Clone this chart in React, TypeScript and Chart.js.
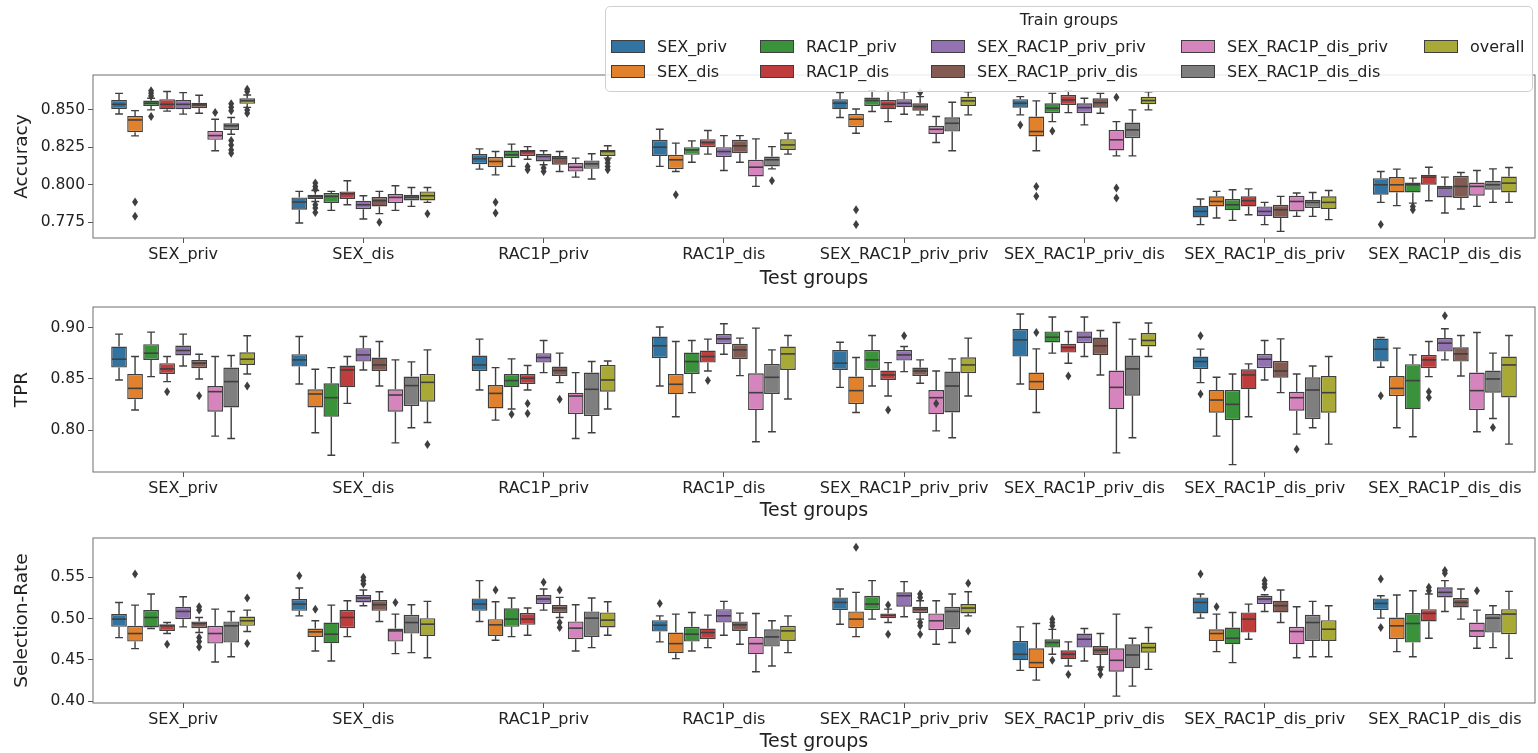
import React, { useEffect, useRef } from 'react';
import { Chart, registerables } from 'chart.js';

Chart.register(...registerables);

const FONT = "'DejaVu Sans', 'Liberation Sans', sans-serif";
const EDGE = '#3f3f3f';

const testGroups = ['SEX_priv', 'SEX_dis', 'RAC1P_priv', 'RAC1P_dis', 'SEX_RAC1P_priv_priv', 'SEX_RAC1P_priv_dis', 'SEX_RAC1P_dis_priv', 'SEX_RAC1P_dis_dis'];
const trainGroups = ['SEX_priv', 'SEX_dis', 'RAC1P_priv', 'RAC1P_dis', 'SEX_RAC1P_priv_priv', 'SEX_RAC1P_priv_dis', 'SEX_RAC1P_dis_priv', 'SEX_RAC1P_dis_dis', 'overall'];
const trainColors = ['#3274a1', '#e1812c', '#3a923a', '#c03d3e', '#9372b2', '#845b53', '#d684bd', '#7f7f7f', '#a9aa35'];

// [whiskerLow, q1, median, q3, whiskerHigh] per test group (rows) x train group (cols)
const accuracyStats = [
  [[0.8471, 0.8504, 0.8535, 0.8564, 0.8608], [0.8325, 0.8350, 0.8431, 0.8458, 0.8493], [0.8498, 0.8524, 0.8542, 0.8560, 0.8575], [0.8490, 0.8502, 0.8535, 0.8569, 0.8620], [0.8470, 0.8502, 0.8535, 0.8564, 0.8613], [0.8476, 0.8509, 0.8531, 0.8546, 0.8595], [0.8226, 0.8299, 0.8327, 0.8358, 0.8436], [0.8336, 0.8365, 0.8392, 0.8409, 0.8447], [0.8515, 0.8538, 0.8558, 0.8575, 0.8597]],
  [[0.7746, 0.7834, 0.7885, 0.7916, 0.7956], [0.7889, 0.7905, 0.7920, 0.7934, 0.7962], [0.7830, 0.7878, 0.7923, 0.7945, 0.7956], [0.7867, 0.7905, 0.7940, 0.7956, 0.8027], [0.7772, 0.7838, 0.7867, 0.7894, 0.7927], [0.7808, 0.7856, 0.7894, 0.7918, 0.7956], [0.7830, 0.7878, 0.7916, 0.7938, 0.7993], [0.7856, 0.7896, 0.7918, 0.7934, 0.7982], [0.7883, 0.7896, 0.7927, 0.7956, 0.7982]],
  [[0.8104, 0.8137, 0.8173, 0.8204, 0.8239], [0.8066, 0.8117, 0.8155, 0.8184, 0.8221], [0.8122, 0.8177, 0.8199, 0.8228, 0.8270], [0.8170, 0.8192, 0.8221, 0.8232, 0.8254], [0.8133, 0.8155, 0.8188, 0.8206, 0.8226], [0.8088, 0.8133, 0.8177, 0.8192, 0.8221], [0.8051, 0.8088, 0.8117, 0.8144, 0.8177], [0.8038, 0.8106, 0.8139, 0.8162, 0.8206], [0.8177, 0.8192, 0.8221, 0.8232, 0.8259]],
  [[0.8122, 0.8192, 0.8250, 0.8299, 0.8369], [0.8088, 0.8104, 0.8166, 0.8199, 0.8277], [0.8150, 0.8199, 0.8232, 0.8250, 0.8292], [0.8204, 0.8250, 0.8281, 0.8303, 0.8361], [0.8095, 0.8184, 0.8221, 0.8250, 0.8327], [0.8150, 0.8210, 0.8259, 0.8299, 0.8327], [0.7989, 0.8055, 0.8117, 0.8166, 0.8305], [0.8106, 0.8122, 0.8166, 0.8188, 0.8254], [0.8204, 0.8232, 0.8265, 0.8303, 0.8343]],
  [[0.8447, 0.8502, 0.8542, 0.8569, 0.8613], [0.8343, 0.8383, 0.8436, 0.8471, 0.8504], [0.8487, 0.8524, 0.8560, 0.8580, 0.8626], [0.8420, 0.8502, 0.8535, 0.8564, 0.8624], [0.8469, 0.8515, 0.8542, 0.8569, 0.8619], [0.8465, 0.8493, 0.8520, 0.8542, 0.8586], [0.8281, 0.8338, 0.8369, 0.8392, 0.8454], [0.8226, 0.8354, 0.8409, 0.8449, 0.8549], [0.8465, 0.8524, 0.8558, 0.8586, 0.8619]],
  [[0.8465, 0.8513, 0.8542, 0.8569, 0.8586], [0.8226, 0.8321, 0.8354, 0.8454, 0.8558], [0.8420, 0.8476, 0.8509, 0.8542, 0.8608], [0.8480, 0.8531, 0.8564, 0.8597, 0.8626], [0.8398, 0.8476, 0.8513, 0.8542, 0.8575], [0.8476, 0.8513, 0.8546, 0.8575, 0.8608], [0.8192, 0.8228, 0.8299, 0.8365, 0.8420], [0.8192, 0.8310, 0.8365, 0.8414, 0.8498], [0.8498, 0.8535, 0.8560, 0.8586, 0.8619]],
  [[0.7735, 0.7783, 0.7823, 0.7861, 0.7905], [0.7779, 0.7856, 0.7889, 0.7923, 0.7956], [0.7763, 0.7830, 0.7867, 0.7905, 0.7967], [0.7801, 0.7856, 0.7894, 0.7923, 0.7973], [0.7735, 0.7790, 0.7823, 0.7856, 0.7883], [0.7690, 0.7779, 0.7834, 0.7867, 0.7923], [0.7790, 0.7823, 0.7889, 0.7927, 0.7945], [0.7790, 0.7845, 0.7883, 0.7900, 0.7949], [0.7768, 0.7839, 0.7883, 0.7923, 0.7962]],
  [[0.7883, 0.7934, 0.8000, 0.8044, 0.8088], [0.7861, 0.7949, 0.8000, 0.8051, 0.8104], [0.7878, 0.7949, 0.8000, 0.8015, 0.8044], [0.7894, 0.8000, 0.8051, 0.8066, 0.8117], [0.7812, 0.7916, 0.7978, 0.7993, 0.8051], [0.7839, 0.7912, 0.7989, 0.8060, 0.8082], [0.7856, 0.7927, 0.7989, 0.8015, 0.8095], [0.7883, 0.7967, 0.8000, 0.8027, 0.8106], [0.7883, 0.7949, 0.8011, 0.8055, 0.8115]],
];
const accuracyOutliers = [
  [[], [0.7885, 0.7790], [0.8626, 0.8608, 0.8591, 0.8454], [], [], [], [0.8480], [0.8538, 0.8515, 0.8493, 0.8294, 0.8265, 0.8232, 0.8210], [0.8635, 0.8620, 0.8498, 0.8476]],
  [[], [0.8011, 0.7989, 0.7971, 0.7867, 0.7845, 0.7816], [], [], [], [0.7750], [], [], [0.7808]],
  [[], [0.7883, 0.7812], [], [0.8122, 0.8100], [0.8111, 0.8088], [], [], [], [0.8166, 0.8144, 0.8122, 0.8100]],
  [[], [0.7934], [], [], [], [], [], [0.8027], []],
  [[], [0.7834, 0.7735], [], [], [], [0.8613], [], [], []],
  [[0.8398], [0.7989, 0.7923], [0.8358], [], [], [], [0.8582, 0.7978, 0.7912], [], []],
  [[], [], [], [], [], [], [], [], []],
  [[0.7735], [], [0.7856, 0.7834], [], [], [], [], [], []],
];

const tprStats = [
  [[0.8490, 0.8611, 0.8693, 0.8817, 0.8938], [0.8196, 0.8301, 0.8408, 0.8549, 0.8719], [0.8523, 0.8686, 0.8752, 0.8840, 0.8958], [0.8474, 0.8549, 0.8598, 0.8654, 0.8719], [0.8627, 0.8729, 0.8778, 0.8827, 0.8938], [0.8500, 0.8605, 0.8654, 0.8686, 0.8742], [0.7941, 0.8180, 0.8376, 0.8431, 0.8719], [0.7918, 0.8222, 0.8474, 0.8611, 0.8729], [0.8549, 0.8637, 0.8693, 0.8761, 0.8922]],
  [[0.8451, 0.8621, 0.8686, 0.8742, 0.8915], [0.7974, 0.8222, 0.8353, 0.8399, 0.8595], [0.7755, 0.8131, 0.8317, 0.8458, 0.8611], [0.8261, 0.8418, 0.8588, 0.8631, 0.8719], [0.8588, 0.8670, 0.8735, 0.8801, 0.8915], [0.8431, 0.8578, 0.8637, 0.8709, 0.8866], [0.7876, 0.8180, 0.8343, 0.8399, 0.8686], [0.8023, 0.8235, 0.8435, 0.8523, 0.8667], [0.8075, 0.8278, 0.8467, 0.8549, 0.8784]],
  [[0.8392, 0.8578, 0.8637, 0.8729, 0.8889], [0.8098, 0.8212, 0.8359, 0.8441, 0.8611], [0.8206, 0.8418, 0.8484, 0.8549, 0.8696], [0.8392, 0.8451, 0.8507, 0.8549, 0.8631], [0.8562, 0.8660, 0.8709, 0.8752, 0.8876], [0.8464, 0.8529, 0.8582, 0.8621, 0.8752], [0.7918, 0.8157, 0.8333, 0.8366, 0.8562], [0.7974, 0.8137, 0.8399, 0.8562, 0.8670], [0.8206, 0.8376, 0.8490, 0.8637, 0.8676]],
  [[0.8431, 0.8703, 0.8824, 0.8915, 0.9007], [0.8131, 0.8350, 0.8448, 0.8549, 0.8866], [0.8366, 0.8549, 0.8670, 0.8758, 0.8876], [0.8578, 0.8660, 0.8719, 0.8778, 0.8889], [0.8742, 0.8840, 0.8892, 0.8938, 0.9039], [0.8533, 0.8693, 0.8784, 0.8843, 0.8899], [0.7886, 0.8196, 0.8366, 0.8556, 0.8997], [0.7984, 0.8353, 0.8516, 0.8647, 0.8784], [0.8304, 0.8588, 0.8745, 0.8817, 0.8925]],
  [[0.8418, 0.8588, 0.8654, 0.8784, 0.8859], [0.8173, 0.8255, 0.8386, 0.8523, 0.8709], [0.8431, 0.8588, 0.8686, 0.8784, 0.8925], [0.8333, 0.8490, 0.8539, 0.8582, 0.8660], [0.8572, 0.8680, 0.8735, 0.8784, 0.8817], [0.8458, 0.8529, 0.8578, 0.8611, 0.8686], [0.7993, 0.8154, 0.8317, 0.8392, 0.8578], [0.7925, 0.8173, 0.8431, 0.8572, 0.8696], [0.8333, 0.8556, 0.8637, 0.8712, 0.8899]],
  [[0.8451, 0.8719, 0.8882, 0.8987, 0.9134], [0.8173, 0.8392, 0.8474, 0.8562, 0.8794], [0.8752, 0.8856, 0.8908, 0.8964, 0.9105], [0.8654, 0.8758, 0.8807, 0.8843, 0.8964], [0.8719, 0.8850, 0.8908, 0.8964, 0.9105], [0.8539, 0.8735, 0.8824, 0.8905, 0.8974], [0.7778, 0.8203, 0.8418, 0.8582, 0.9052], [0.7925, 0.8337, 0.8598, 0.8729, 0.8889], [0.8719, 0.8817, 0.8876, 0.8948, 0.9046]],
  [[0.8464, 0.8598, 0.8670, 0.8719, 0.8791], [0.7941, 0.8170, 0.8294, 0.8392, 0.8516], [0.7663, 0.8098, 0.8252, 0.8392, 0.8549], [0.8131, 0.8399, 0.8539, 0.8595, 0.8647], [0.8490, 0.8605, 0.8693, 0.8745, 0.8876], [0.8366, 0.8513, 0.8578, 0.8676, 0.8892], [0.7961, 0.8190, 0.8317, 0.8376, 0.8549], [0.8023, 0.8108, 0.8392, 0.8516, 0.8627], [0.7863, 0.8170, 0.8366, 0.8529, 0.8719]],
  [[0.8614, 0.8670, 0.8791, 0.8895, 0.8905], [0.8023, 0.8333, 0.8408, 0.8529, 0.8801], [0.7935, 0.8203, 0.8484, 0.8644, 0.8735], [0.8523, 0.8605, 0.8686, 0.8735, 0.8866], [0.8686, 0.8768, 0.8850, 0.8899, 0.8990], [0.8529, 0.8670, 0.8745, 0.8810, 0.8925], [0.7984, 0.8196, 0.8386, 0.8562, 0.8954], [0.8114, 0.8366, 0.8500, 0.8582, 0.8752], [0.7863, 0.8320, 0.8637, 0.8719, 0.8925]],
];
const tprOutliers = [
  [[], [], [], [0.8376], [], [0.8337], [], [], [0.8431]],
  [[], [], [], [], [], [], [], [], [0.7859]],
  [[], [], [0.8154], [0.8261, 0.8163], [], [0.8301], [], [], []],
  [[], [], [], [0.8484], [], [], [], [], []],
  [[], [], [], [0.8196], [0.8922], [], [0.8261], [], []],
  [[], [0.8954], [], [0.8529], [], [], [], [], []],
  [[0.8922, 0.8353], [], [], [], [], [], [0.7814], [], []],
  [[0.8337], [], [], [0.8376, 0.8320], [0.9118], [], [], [0.8026], []],
];

const selectionStats = [
  [[0.4771, 0.4901, 0.4994, 0.5055, 0.5196], [0.4638, 0.4723, 0.4820, 0.4913, 0.5164], [0.4881, 0.4893, 0.5014, 0.5103, 0.5298], [0.4820, 0.4852, 0.4913, 0.4933, 0.4953], [0.4901, 0.4994, 0.5087, 0.5144, 0.5265], [0.4832, 0.4885, 0.4941, 0.4966, 0.5014], [0.4476, 0.4698, 0.4820, 0.4913, 0.5115], [0.4540, 0.4711, 0.4913, 0.4966, 0.5087], [0.4844, 0.4913, 0.4974, 0.5026, 0.5103]],
  [[0.5034, 0.5095, 0.5176, 0.5237, 0.5370], [0.4609, 0.4779, 0.4840, 0.4881, 0.4974], [0.4488, 0.4702, 0.4812, 0.4953, 0.5164], [0.4783, 0.4885, 0.5014, 0.5103, 0.5217], [0.5156, 0.5196, 0.5249, 0.5285, 0.5346], [0.4966, 0.5095, 0.5168, 0.5225, 0.5326], [0.4577, 0.4723, 0.4852, 0.4881, 0.5055], [0.4589, 0.4820, 0.4953, 0.5047, 0.5168], [0.4528, 0.4791, 0.4933, 0.5006, 0.5209]],
  [[0.4966, 0.5095, 0.5176, 0.5245, 0.5460], [0.4739, 0.4791, 0.4925, 0.4994, 0.5204], [0.4783, 0.4901, 0.4994, 0.5125, 0.5249], [0.4800, 0.4925, 0.4994, 0.5067, 0.5128], [0.5103, 0.5176, 0.5237, 0.5285, 0.5358], [0.5014, 0.5067, 0.5128, 0.5164, 0.5257], [0.4609, 0.4751, 0.4885, 0.4966, 0.5168], [0.4650, 0.4779, 0.5006, 0.5087, 0.5249], [0.4800, 0.4893, 0.4982, 0.5075, 0.5204]],
  [[0.4719, 0.4844, 0.4921, 0.4982, 0.5034], [0.4516, 0.4581, 0.4698, 0.4832, 0.5055], [0.4609, 0.4723, 0.4812, 0.4901, 0.5075], [0.4650, 0.4751, 0.4832, 0.4881, 0.5043], [0.4800, 0.4953, 0.5034, 0.5115, 0.5209], [0.4690, 0.4852, 0.4925, 0.4966, 0.5067], [0.4358, 0.4569, 0.4698, 0.4779, 0.5063], [0.4427, 0.4662, 0.4779, 0.4872, 0.4974], [0.4589, 0.4731, 0.4852, 0.4913, 0.5034]],
  [[0.4933, 0.5103, 0.5196, 0.5257, 0.5358], [0.4783, 0.4885, 0.4994, 0.5087, 0.5318], [0.4994, 0.5103, 0.5176, 0.5277, 0.5460], [0.4953, 0.5006, 0.5039, 0.5063, 0.5115], [0.5022, 0.5144, 0.5277, 0.5318, 0.5447], [0.4994, 0.5067, 0.5115, 0.5144, 0.5217], [0.4690, 0.4860, 0.4974, 0.5063, 0.5217], [0.4711, 0.4872, 0.5087, 0.5144, 0.5298], [0.5034, 0.5063, 0.5128, 0.5176, 0.5326]],
  [[0.4375, 0.4496, 0.4569, 0.4731, 0.4901], [0.4257, 0.4399, 0.4468, 0.4642, 0.4941], [0.4569, 0.4650, 0.4711, 0.4751, 0.4870], [0.4427, 0.4508, 0.4569, 0.4617, 0.4719], [0.4488, 0.4650, 0.4751, 0.4820, 0.4881], [0.4415, 0.4561, 0.4617, 0.4670, 0.4820], [0.4063, 0.4358, 0.4496, 0.4642, 0.5055], [0.4184, 0.4399, 0.4561, 0.4690, 0.4763], [0.4387, 0.4589, 0.4650, 0.4711, 0.4893]],
  [[0.5006, 0.5063, 0.5196, 0.5257, 0.5298], [0.4601, 0.4731, 0.4820, 0.4872, 0.5055], [0.4468, 0.4690, 0.4763, 0.4893, 0.5075], [0.4751, 0.4832, 0.4994, 0.5075, 0.5176], [0.5087, 0.5176, 0.5237, 0.5277, 0.5289], [0.4953, 0.5075, 0.5156, 0.5217, 0.5346], [0.4528, 0.4690, 0.4844, 0.4901, 0.5144], [0.4540, 0.4731, 0.4953, 0.5047, 0.5209], [0.4540, 0.4731, 0.4872, 0.4982, 0.5156]],
  [[0.5006, 0.5103, 0.5184, 0.5245, 0.5277], [0.4601, 0.4751, 0.4913, 0.5014, 0.5285], [0.4540, 0.4711, 0.4941, 0.5067, 0.5338], [0.4763, 0.4966, 0.5063, 0.5115, 0.5298], [0.5087, 0.5257, 0.5318, 0.5379, 0.5460], [0.4994, 0.5136, 0.5196, 0.5249, 0.5358], [0.4642, 0.4779, 0.4852, 0.4953, 0.5103], [0.4650, 0.4832, 0.5006, 0.5055, 0.5156], [0.4520, 0.4812, 0.5055, 0.5115, 0.5330]],
];
const selectionOutliers = [
  [[], [0.5540], [], [0.4690], [], [0.5144, 0.5103, 0.4771, 0.4723, 0.4658], [], [], [0.5249, 0.4698]],
  [[0.5520], [0.5115], [], [], [0.5500, 0.5460, 0.5419], [], [0.5196], [], []],
  [[], [0.5346], [], [], [0.5439], [0.5346, 0.4953, 0.4893], [], [], []],
  [[0.5184], [], [], [], [], [], [], [], []],
  [[], [0.5864], [], [0.5164, 0.4812], [], [0.5298, 0.5257, 0.4953, 0.4913, 0.4812], [], [], [0.5427, 0.4852]],
  [[], [], [0.4994, 0.4953, 0.4913, 0.4496], [0.4326], [], [0.4387, 0.4326], [], [], []],
  [[0.5540], [0.5144], [], [], [0.5460, 0.5419, 0.5379], [], [], [], []],
  [[0.5480, 0.4893], [], [], [0.5379, 0.5338], [0.5581, 0.5549], [], [0.5338], [], []],
];

const accuracyTicks = [0.775, 0.8, 0.825, 0.85];
const tprTicks = [0.8, 0.85, 0.9];
const selectionTicks = [0.4, 0.45, 0.5, 0.55];

const panels = [
  { title: 'Accuracy', stats: accuracyStats, outliers: accuracyOutliers, ticks: accuracyTicks, decimals: 3, min: 0.7646, max: 0.873, top: 0, height: 290, padTop: 75, xHeight: 52 },
  { title: 'TPR', stats: tprStats, outliers: tprOutliers, ticks: tprTicks, decimals: 2, min: 0.7591, max: 0.9203, top: 290, height: 232, padTop: 17, xHeight: 50 },
  { title: 'Selection-Rate', stats: selectionStats, outliers: selectionOutliers, ticks: selectionTicks, decimals: 2, min: 0.398, max: 0.5975, top: 522, height: 231, padTop: 16, xHeight: 50 },
];

function makeBoxPlugin(stats: number[][][], outliers: number[][][]) {
  return {
    id: 'boxDetails',
    afterDatasetsDraw(chart: any) {
      const ctx = chart.ctx;
      const ys = chart.scales.y;
      const ca = chart.chartArea;
      const py = (v: number) => ys.getPixelForValue(v);
      ctx.save();
      ctx.beginPath();
      ctx.rect(ca.left, ca.top, ca.right - ca.left, ca.bottom - ca.top);
      ctx.clip();
      chart.data.datasets.forEach((_ds: any, t: number) => {
        const meta = chart.getDatasetMeta(t);
        meta.data.forEach((bar: any, g: number) => {
          const s = stats[g][t];
          const { x, width } = bar.getProps(['x', 'width'], true);
          const w = width;
          ctx.strokeStyle = EDGE;
          ctx.lineWidth = 1.4;
          ctx.beginPath();
          ctx.moveTo(x, py(s[3]));
          ctx.lineTo(x, py(s[4]));
          ctx.moveTo(x, py(s[1]));
          ctx.lineTo(x, py(s[0]));
          ctx.moveTo(x - w / 4, py(s[4]));
          ctx.lineTo(x + w / 4, py(s[4]));
          ctx.moveTo(x - w / 4, py(s[0]));
          ctx.lineTo(x + w / 4, py(s[0]));
          ctx.stroke();
          ctx.beginPath();
          ctx.lineWidth = 1.6;
          ctx.moveTo(x - w / 2 + 0.7, py(s[2]));
          ctx.lineTo(x + w / 2 - 0.7, py(s[2]));
          ctx.stroke();
          ctx.fillStyle = EDGE;
          (outliers[g][t] || []).forEach((v) => {
            const yy = py(v);
            ctx.beginPath();
            ctx.moveTo(x, yy - 4.5);
            ctx.lineTo(x + 3, yy);
            ctx.lineTo(x, yy + 4.5);
            ctx.lineTo(x - 3, yy);
            ctx.closePath();
            ctx.fill();
          });
        });
      });
      ctx.restore();
      ctx.save();
      ctx.strokeStyle = '#6e6e6e';
      ctx.lineWidth = 1;
      ctx.strokeRect(ca.left, ca.top, ca.right - ca.left, ca.bottom - ca.top);
      ctx.restore();
    },
  };
}

function Panel(props: any) {
  const ref = useRef<HTMLCanvasElement | null>(null);
  const p = props.panel;
  useEffect(() => {
    if (!ref.current) return;
    const chart = new Chart(ref.current, {
      type: 'bar',
      data: {
        labels: testGroups,
        datasets: trainGroups.map((name, t) => ({
          label: name,
          data: testGroups.map((_n, g) => [p.stats[g][t][1], p.stats[g][t][3]]),
          backgroundColor: trainColors[t],
          borderColor: EDGE,
          borderWidth: 1.4,
          borderSkipped: false,
          categoryPercentage: 0.8,
          barPercentage: 0.98,
        })),
      },
      options: {
        responsive: false,
        animation: false,
        devicePixelRatio: 1,
        layout: { padding: { top: p.padTop, right: 3, left: 0, bottom: 0 } },
        plugins: { legend: { display: false }, tooltip: { enabled: false } },
        scales: {
          x: {
            type: 'category',
            offset: true,
            grid: { display: true, drawOnChartArea: false, drawTicks: true, tickLength: 5, color: '#555', offset: false },
            border: { display: false },
            ticks: { color: '#222', font: { family: FONT, size: 16 }, padding: 2, maxRotation: 0, autoSkip: false },
            title: { display: true, text: 'Test groups', color: '#222', font: { family: FONT, size: 19 }, padding: { top: 0, bottom: 0 } },
            afterFit: (s: any) => { s.height = p.xHeight; },
          },
          y: {
            type: 'linear',
            min: p.min,
            max: p.max,
            afterBuildTicks: (s: any) => { s.ticks = p.ticks.map((v: number) => ({ value: v })); },
            grid: { display: true, drawOnChartArea: false, drawTicks: true, tickLength: 5, color: '#555' },
            border: { display: false },
            ticks: { color: '#222', font: { family: FONT, size: 15.5 }, padding: 3, callback: (v: any) => Number(v).toFixed(p.decimals) },
            title: { display: true, text: p.title, color: '#222', font: { family: FONT, size: 18.5 }, padding: { top: 11, bottom: 0 } },
            afterFit: (s: any) => { s.width = 93; },
          },
        },
      } as any,
      plugins: [makeBoxPlugin(p.stats, p.outliers)],
    });
    return () => chart.destroy();
  }, []);
  return (
    <canvas
      ref={ref}
      width={1538}
      height={p.height}
      style={{ position: 'absolute', left: 0, top: p.top, width: 1538, height: p.height }}
    />
  );
}

const legendColX = [611, 760, 931, 1181, 1424];
const legendRowY = [47, 72];

function Legend() {
  return (
    <>
      <div style={{ position: 'absolute', left: 605, top: 6, width: 928, height: 86, border: '1px solid #cfcfcf', borderRadius: 5, background: 'rgba(255,255,255,0.85)', boxSizing: 'border-box' }} />
      <div style={{ position: 'absolute', left: 605, top: 10, width: 928, height: 20, lineHeight: '20px', textAlign: 'center', fontFamily: FONT, fontSize: 16, color: '#222' }}>Train groups</div>
      {trainGroups.map((name, t) => {
        const col = Math.floor(t / 2);
        const row = t % 2;
        const x = legendColX[col];
        const y = legendRowY[row];
        return (
          <React.Fragment key={name}>
            <div style={{ position: 'absolute', left: x, top: y - 7, width: 34, height: 13, background: trainColors[t], border: '1px solid ' + EDGE, boxSizing: 'border-box' }} />
            <div style={{ position: 'absolute', left: x + 46, top: y - 10, height: 20, lineHeight: '20px', fontFamily: FONT, fontSize: 16, color: '#222', whiteSpace: 'nowrap' }}>{name}</div>
          </React.Fragment>
        );
      })}
    </>
  );
}

export default function App() {
  return (
    <div style={{ position: 'absolute', left: 0, top: 0, width: 1538, height: 753, background: '#fff', overflow: 'hidden' }}>
      {panels.map((p, i) => <Panel key={i} panel={p} />)}
      <Legend />
    </div>
  );
}
